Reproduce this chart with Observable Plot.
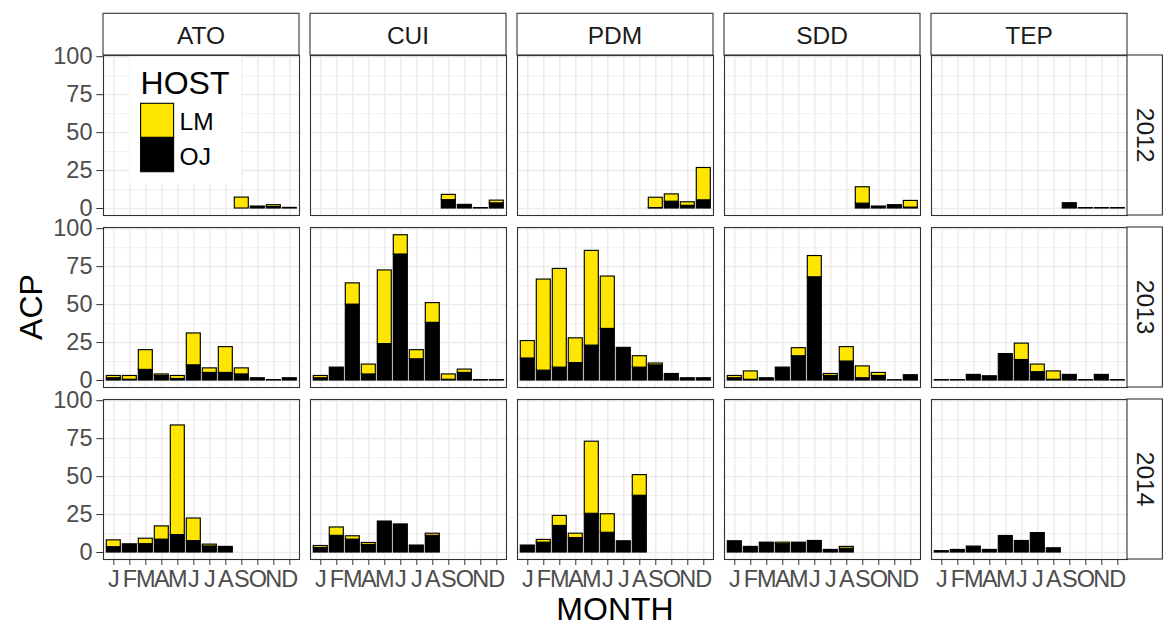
<!DOCTYPE html>
<html>
<head>
<meta charset="utf-8">
<script src="https://cdn.jsdelivr.net/npm/d3@7"></script>
<script src="https://cdn.jsdelivr.net/npm/@observablehq/plot@0.6"></script>
<style>
  body { margin: 0; background: #fff; }
  #chart svg { display: block; }
</style>
</head>
<body>
<div id="chart"></div>
<script>
const sites = ["ATO", "CUI", "PDM", "SDD", "TEP"];
const years = ["2012", "2013", "2014"];
const months = ["Jan","Feb","Mar","Apr","May","Jun","Jul","Aug","Sep","Oct","Nov","Dec"];
const monthLetters = ["J","F","M","A","M","J","J","A","S","O","N","D"];
const hosts = ["LM", "OJ"];
const hostColors = ["#FFE600", "#000000"];
const yTicks = [0, 25, 50, 75, 100];
const yMinorTicks = [12.5, 37.5, 62.5, 87.5];
const n = null;

// rows follow `sites`, columns follow `months`
const oj2012 = [
  [n,n,n,n,n,n,n,n, 0, 1.3, 1, 0.4],
  [n,n,n,n,n,n,n,n, 5.5, 2.4, 0.3, 3.4],
  [n,n,n,n,n,n,n,n, 0.3, 4.5, 1.8, 5.4],
  [n,n,n,n,n,n,n,n, 3.2, 1.3, 2.2, 0.6],
  [n,n,n,n,n,n,n,n, 3.5, 0.3, 0.3, 0.3]
];
const lm2012 = [
  [n,n,n,n,n,n,n,n, 7.2, 0, 1.2, 0],
  [n,n,n,n,n,n,n,n, 3.5, 0, 0, 1.8],
  [n,n,n,n,n,n,n,n, 6.8, 4.8, 2.3, 21.3],
  [n,n,n,n,n,n,n,n, 10.8, 0, 0, 4.4],
  [n,n,n,n,n,n,n,n, 0, 0, 0, 0]
];
const oj2013 = [
  [1.5, 0.5, 7, 3, 1, 10, 5, 5, 4, 1.5, 0.3, 1.5],
  [1.5, 8.5, 50, 4, 24, 83, 14, 38, 0.5, 5, 0.3, 0.3],
  [14.5, 6.5, 8.5, 11.5, 23, 34, 21.5, 8.5, 10, 4.3, 1.5, 1.5],
  [1.5, 0.5, 1.5, 8.5, 16, 68, 3, 12.5, 1.5, 3, 0.2, 3.5],
  [0.3, 0.3, 3.7, 2.8, 17.4, 13.5, 5.5, 0.5, 3.7, 0.3, 3.7, 0.3]
];
const lm2013 = [
  [1.5, 2.5, 13, 1, 2, 21, 3, 17, 4, 0, 0, 0],
  [1.5, 0, 14, 6.5, 48.5, 12.7, 6, 13, 3.5, 2.2, 0, 0],
  [11.5, 60, 65, 16.3, 62.4, 34.5, 0, 7.5, 1.2, 0, 0, 0],
  [1.5, 5.5, 0, 0, 5.3, 14, 1.3, 9.5, 7.8, 2, 0, 0],
  [0, 0, 0, 0, 0, 10.8, 5, 5.5, 0, 0, 0, 0]
];
const oj2014 = [
  [3.5, 5.4, 5.5, 8.5, 11.5, 7.5, 4, 3.7, n,n,n,n],
  [3, 11, 8.5, 5, 20.4, 18.5, 4.6, 11, n,n,n,n],
  [4.6, 6.5, 17.5, 9.5, 25.5, 13, 7.4, 37.4, n,n,n,n],
  [7.4, 3.7, 6.5, 5.5, 6.5, 7.6, 1.7, 2.5, n,n,n,n],
  [0.9, 1.7, 3.9, 1.7, 10.9, 7.6, 12.8, 2.8, n,n,n,n]
];
const lm2014 = [
  [4.5, 0, 3.6, 8.7, 72.2, 14.9, 1.2, 0, n,n,n,n],
  [1.3, 5.5, 2.2, 1.3, 0, 0, 0, 1.4, n,n,n,n],
  [0, 1.8, 6.6, 2.9, 47.5, 12.2, 0, 13.6, n,n,n,n],
  [0, 0, 0, 1, 0, 0, 0, 1.2, n,n,n,n],
  [0, 0, 0, 0, 0, 0, 0, 0, n,n,n,n]
];

const ojByYear = [oj2012, oj2013, oj2014];
const lmByYear = [lm2012, lm2013, lm2014];

const data = [];
years.forEach((year, yi) => {
  sites.forEach((site, si) => {
    months.forEach((month, mi) => {
      const oj = ojByYear[yi][si][mi];
      const lm = lmByYear[yi][si][mi];
      if (oj != null && oj > 0) data.push({site, year, month, host: "OJ", value: oj});
      if (lm != null && lm > 0) data.push({site, year, month, host: "LM", value: lm});
    });
  });
});

const FONT = '"Liberation Sans", Arial, Helvetica, sans-serif';
const W = 1163, H = 626;

const plot = Plot.plot({
  width: W,
  height: H,
  marginLeft: 101.7,
  marginRight: 35.7,
  marginTop: 54,
  marginBottom: 67,
  style: {fontFamily: FONT, fontSize: "24px", background: "#fff", overflow: "visible"},
  fx: {domain: sites, paddingInner: 0.055, paddingOuter: 0, axis: null, label: null},
  fy: {domain: years, paddingInner: 0.0725, paddingOuter: 0, axis: null, label: null},
  x: {domain: months, padding: 0.1, label: null},
  y: {domain: [-4.6, 100.8], label: null},
  color: {domain: hosts, range: hostColors},
  marks: [
    Plot.gridY(yMinorTicks, {stroke: "#EBEBEB", strokeOpacity: 1, strokeWidth: 0.7}),
    Plot.gridY(yTicks, {stroke: "#EBEBEB", strokeOpacity: 1, strokeWidth: 1.4}),
    Plot.gridX(months, {stroke: "#EBEBEB", strokeOpacity: 1, strokeWidth: 1.4}),
    Plot.barY(data, Plot.stackY({
      x: "month", y: "value", fill: "host", fx: "site", fy: "year",
      order: ["OJ", "LM"], stroke: "#000", strokeWidth: 1.15
    })),
    Plot.frame({stroke: "#333", strokeWidth: 1.1}),
    Plot.axisY(yTicks, {
      anchor: "left", tickSize: 6.7, tickPadding: 4.3, label: null,
      color: "#4D4D4D", stroke: "#333", fontSize: 23.5
    }),
    Plot.axisX(months, {
      anchor: "bottom", tickSize: 6, tickPadding: 5, label: null,
      tickFormat: d => monthLetters[months.indexOf(d)],
      color: "#4D4D4D", stroke: "#333", fontSize: 23.5
    })
  ]
});

const svg = d3.select(plot);
const fx = plot.scale("fx");
const fy = plot.scale("fy");
const color = plot.scale("color");
const bw = fx.bandwidth, bh = fy.bandwidth;
const over = svg.append("g").attr("font-family", FONT).attr("text-anchor", "start");

// top strips
const stripTop = 13.3;
sites.forEach(s => {
  const x0 = fx.apply(s);
  const y1 = fy.apply(years[0]);
  over.append("rect").attr("x", x0).attr("y", stripTop).attr("width", bw).attr("height", y1 - stripTop)
    .attr("fill", "#fff").attr("stroke", "#333").attr("stroke-width", 1.1);
  over.append("text").attr("x", x0 + bw / 2).attr("y", 44).attr("text-anchor", "middle")
    .attr("font-size", 24.5).attr("fill", "#1A1A1A").text(s);
});

// right strips
const lastX = fx.apply(sites[sites.length - 1]) + bw;
const stripW = 35.4;
years.forEach(yv => {
  const y0 = fy.apply(yv);
  over.append("rect").attr("x", lastX).attr("y", y0).attr("width", stripW).attr("height", bh)
    .attr("fill", "#fff").attr("stroke", "#333").attr("stroke-width", 1.1);
  over.append("text").attr("transform", `translate(${lastX + 10},${y0 + bh / 2}) rotate(90)`)
    .attr("text-anchor", "middle").attr("font-size", 24.5).attr("fill", "#1A1A1A").text(yv);
});

// legend inside ATO / 2012 panel
const lx = fx.apply("ATO"), ly = fy.apply("2012");
const lg = over.append("g").attr("transform", `translate(${lx},${ly})`);
lg.append("rect").attr("x", 26.5).attr("y", 1.5).attr("width", 112).attr("height", 127.5).attr("fill", "#fff");
lg.append("text").attr("x", 37.6).attr("y", 38.7).attr("text-anchor", "start")
  .attr("font-size", 32).attr("fill", "#000").text("HOST");
hosts.forEach((h, i) => {
  const ky = 48.3 + i * 34.4;
  lg.append("rect").attr("x", 37.6).attr("y", ky).attr("width", 33).attr("height", 34)
    .attr("fill", color.apply(h)).attr("stroke", "#000").attr("stroke-width", 1.1);
  lg.append("text").attr("x", 76.6).attr("y", ky + 27).attr("text-anchor", "start")
    .attr("font-size", 24.5).attr("fill", "#000").text(h);
});

// axis titles
over.append("text").attr("transform", `translate(41.5,${(fy.apply("2012") + fy.apply("2014") + bh) / 2}) rotate(-90)`)
  .attr("text-anchor", "middle").attr("font-size", 32).attr("fill", "#000").text("ACP");
over.append("text").attr("x", (fx.apply("ATO") + lastX) / 2).attr("y", 619.5)
  .attr("text-anchor", "middle").attr("font-size", 32).attr("fill", "#000").text("MONTH");

document.getElementById("chart").appendChild(plot);
</script>
</body>
</html>
